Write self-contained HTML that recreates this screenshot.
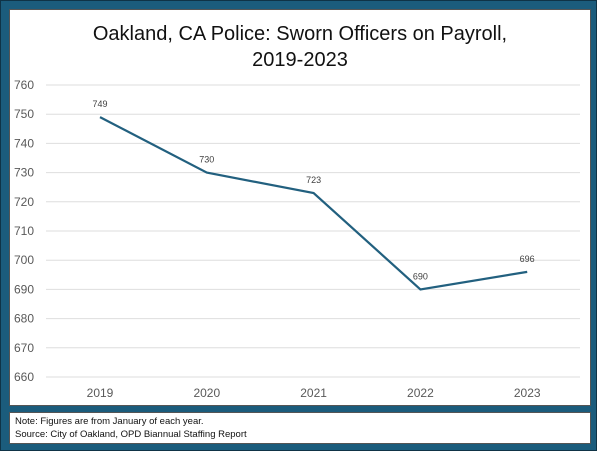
<!DOCTYPE html>
<html><head><style>
body{margin:0;width:600px;height:454px;background:#fff;overflow:hidden;font-family:"Liberation Sans",sans-serif}
#frame{position:absolute;left:1px;top:1px;width:595px;height:449px;background:#1b5c7c;box-shadow:0 0 0 1px #0f3346}
#chartbox{position:absolute;left:9px;top:9px;width:582px;height:397px;background:#fff;border:1px solid #555;box-sizing:border-box}
#foot{position:absolute;left:9px;top:412px;width:582px;height:32px;background:#fff;border:1px solid #555;box-sizing:border-box;font-size:9.5px;color:#111;padding:2px 0 0 5px;line-height:13px}
</style></head><body>
<div id="frame"></div>
<div id="chartbox"></div>
<svg id="chart" width="600" height="454" style="position:absolute;left:0;top:0">
<text x="300" y="40" text-anchor="middle" font-size="20" fill="#111">Oakland, CA Police: Sworn Officers on Payroll,</text>
<text x="300" y="66" text-anchor="middle" font-size="20" fill="#111">2019-2023</text>
<g id="grid"></g><g id="yl"></g><g id="xl"></g><g id="ln"></g>
</svg>
<div id="foot">Note: Figures are from January of each year.<br>Source: City of Oakland, OPD Biannual Staffing Report</div>
<script>
const categories=["2019","2020","2021","2022","2023"];
const officers=[749,730,723,690,696];
const yTicks=[660,670,680,690,700,710,720,730,740,750,760];
const ns="http://www.w3.org/2000/svg";
const y=v=>377-(v-660)*2.92;
const x=i=>100+i*106.8;
function mk(tag,attrs,parent,txt){const e=document.createElementNS(ns,tag);for(const k in attrs)e.setAttribute(k,attrs[k]);if(txt!==undefined)e.textContent=txt;document.getElementById(parent).appendChild(e);return e;}
yTicks.forEach(t=>{
 const g=mk('line',{x1:46,x2:580,y1:y(t),y2:y(t),stroke:'#dedede','stroke-width':1},'grid');
 
 
 const l=mk('text',{x:14,y:y(t)+4,'font-size':12,fill:'#595959'},'yl',t);
 
 
});
categories.forEach((c,i)=>{
 const l=mk('text',{x:x(i),y:397,'font-size':12,fill:'#595959','text-anchor':'middle'},'xl',c);
 
 
});
const p=mk('polyline',{points:officers.map((v,i)=>x(i)+','+y(v)).join(' '),fill:'none',stroke:'#22607f','stroke-width':2.2},'ln');


officers.forEach((v,i)=>{
 const l=mk('text',{x:x(i),y:y(v)-10,'font-size':9,fill:'#404040','text-anchor':'middle'},'ln',v);
 
 
});
</script>
</body></html>
